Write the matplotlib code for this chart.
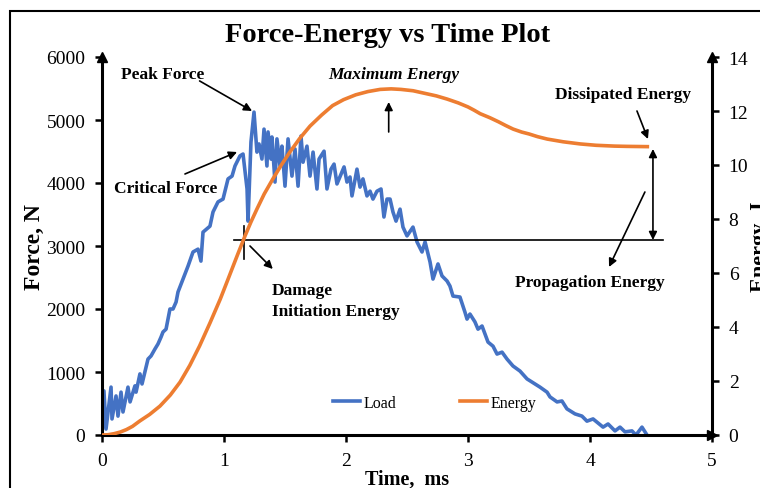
import matplotlib
matplotlib.use("Agg")
import matplotlib.pyplot as plt
from matplotlib.patches import Rectangle

plt.rcParams["font.family"] = ["Liberation Serif", "DejaVu Serif"]

# Load curve (time in ms, force in N)
load_t = [0, 0.016, 0.033, 0.074, 0.082, 0.115, 0.131, 0.156, 0.172, 0.213, 0.230, 0.270, 0.279,
          0.311, 0.328, 0.352, 0.377, 0.402, 0.434, 0.459, 0.484, 0.500, 0.525, 0.557, 0.582, 0.607,
          0.623, 0.664, 0.705, 0.746, 0.787, 0.811, 0.828, 0.885, 0.910, 0.951, 0.992, 1.033, 1.066,
          1.090, 1.131, 1.156, 1.189, 1.197, 1.221, 1.246, 1.270, 1.287, 1.311, 1.328, 1.352, 1.361,
          1.385, 1.393, 1.418, 1.434, 1.459, 1.475, 1.500, 1.525, 1.557, 1.582, 1.607, 1.631, 1.648,
          1.680, 1.705, 1.730, 1.762, 1.779, 1.820, 1.844, 1.877, 1.902, 1.926, 1.967, 1.984, 2.008,
          2.033, 2.049, 2.090, 2.115, 2.139, 2.172, 2.197, 2.221, 2.254, 2.287, 2.311, 2.336, 2.361,
          2.385, 2.410, 2.443, 2.467, 2.500, 2.549, 2.582, 2.623, 2.648, 2.689, 2.713, 2.754, 2.787,
          2.828, 2.852, 2.877, 2.934, 2.975, 2.992, 3.016, 3.057, 3.082, 3.115, 3.164, 3.205, 3.238,
          3.279, 3.320, 3.369, 3.426, 3.484, 3.590, 3.648, 3.672, 3.730, 3.770, 3.811, 3.877, 3.934,
          3.975, 4.025, 4.107, 4.148, 4.205, 4.246, 4.287, 4.344, 4.377, 4.426, 4.467]
load_f = [0, 700, 95, 760, 255, 620, 300, 680, 365, 760, 525, 780, 680,
          970, 810, 1000, 1205, 1255, 1365, 1445, 1555, 1635, 1680, 2000, 2000, 2110,
          2270, 2475, 2680, 2905, 2950, 2760, 3220, 3315, 3540, 3700, 3745, 4065, 4110,
          4270, 4430, 4460, 3905, 3395, 4650, 5125, 4490, 4620, 4380, 4855, 4270, 4810,
          4380, 4730, 4015, 4700, 4270, 4585, 3950, 4700, 4110, 4540, 3950, 4745, 4330,
          4585, 4110, 4490, 3905, 4380, 4505, 3905, 4220, 4300, 3985, 4175, 4255, 4015,
          4095, 3795, 4220, 3935, 4065, 3795, 3870, 3745, 3870, 3905, 3460, 3745, 3745,
          3540, 3395, 3585, 3300, 3160, 3300, 3065, 2905, 3065, 2745, 2475, 2715, 2525,
          2445, 2365, 2205, 2190, 1950, 1840, 1920, 1795, 1680, 1730, 1475, 1410, 1285,
          1315, 1205, 1095, 1015, 890, 760, 680, 605, 525, 540, 415, 335, 300,
          220, 255, 125, 175, 65, 125, 50, 65, 0, 125, 0]

# Energy curve (time in ms, energy in J)
energy_t = [0, 0.05, 0.1, 0.15, 0.2, 0.25, 0.31, 0.39, 0.475, 0.56, 0.64, 0.72, 0.8, 0.885,
            0.97, 1.04, 1.107, 1.172, 1.22, 1.27, 1.33, 1.40, 1.47, 1.54, 1.62, 1.705, 1.80,
            1.89, 1.98, 2.08, 2.18, 2.28, 2.37, 2.45, 2.55, 2.65, 2.74, 2.83, 2.92, 3.0, 3.05,
            3.1, 3.18, 3.25, 3.31, 3.37, 3.44, 3.5, 3.57, 3.65, 3.78, 3.92, 4.05, 4.2, 4.3, 4.47]
energy_j = [0, 0.01, 0.05, 0.11, 0.2, 0.32, 0.52, 0.76, 1.07, 1.48, 1.96, 2.58, 3.30, 4.15,
            5.04, 5.85, 6.63, 7.37, 7.88, 8.37, 8.93, 9.48, 10.0, 10.48, 10.98, 11.44, 11.85,
            12.2, 12.42, 12.6, 12.72, 12.8, 12.82, 12.8, 12.75, 12.65, 12.56, 12.44, 12.3, 12.15, 12.03,
            11.9, 11.75, 11.6, 11.46, 11.33, 11.22, 11.15, 11.05, 10.96, 10.86, 10.78, 10.73, 10.70, 10.69, 10.68]

x_ticks = [0, 1, 2, 3, 4, 5]
force_ticks = [0, 1000, 2000, 3000, 4000, 5000, 6000]
energy_ticks = [0, 2, 4, 6, 8, 10, 12, 14]

BLUE = "#4472C4"
ORANGE = "#ED7D31"

fig = plt.figure(figsize=(7.6, 4.89), dpi=100)
ax = fig.add_axes([102 / 760, 1 - 436 / 489, 610 / 760, 378 / 489])
ax2 = ax.twinx()

line_load, = ax.plot(load_t, load_f, color=BLUE, lw=2.6, label="Load")
line_en, = ax2.plot(energy_t, energy_j, color=ORANGE, lw=2.6, label="Energy")

ax.set_xlim(0, 5)
ax.set_ylim(0, 6000)
ax2.set_ylim(0, 14)
ax.set_xticks(x_ticks)
ax.set_yticks(force_ticks)
ax2.set_yticks(energy_ticks)

for a in (ax, ax2):
    a.spines["top"].set_visible(False)
    for s in a.spines.values():
        s.set_linewidth(2.2)
    a.tick_params(direction="out", length=5, width=1.8, labelsize=14, pad=7)
ax.spines["right"].set_visible(False)
ax2.spines["left"].set_visible(False)
ax2.spines["bottom"].set_visible(False)

# arrow heads on the axes
ax.plot(0, 1, "^k", ms=7, transform=ax.transAxes, clip_on=False)
ax.plot(1, 0, ">k", ms=7, transform=ax.transAxes, clip_on=False)
ax.plot(1, 1, "^k", ms=7, transform=ax.transAxes, clip_on=False)

ax.set_xlabel("Time,  ms", fontsize=14.5, fontweight="bold", labelpad=0)
ax.set_ylabel("Force, N", fontsize=17, fontweight="bold", labelpad=1)
ax2.set_ylabel("Energy, J", fontsize=16, fontweight="bold", labelpad=1)
fig.text(388 / 760, 1 - 35 / 489, "Force-Energy vs Time Plot", fontsize=20.5, fontweight="bold",
         ha="center", va="center")

arrow = dict(arrowstyle="-|>", color="k", lw=1.2, mutation_scale=12, shrinkA=0, shrinkB=0)
dbl = dict(arrowstyle="<|-|>", color="k", lw=1.2, mutation_scale=12, shrinkA=0, shrinkB=0)
tfont = dict(fontsize=12.5, fontweight="bold", ha="center", va="center")

ax.text(0.50, 5730, "Peak Force", **tfont)
ax.annotate("", xy=(1.23, 5143), xytext=(0.80, 5620), arrowprops=arrow)
ax.text(0.52, 3920, "Critical Force", **tfont)
ax.annotate("", xy=(1.107, 4492), xytext=(0.68, 4143), arrowprops=arrow)
ax.text(2.39, 5730, "Maximum Energy", style="italic", **tfont)
ax.annotate("", xy=(2.35, 5286), xytext=(2.35, 4810), arrowprops=arrow)
ax.text(4.27, 5413, "Dissipated Energy", **tfont)
ax.annotate("", xy=(4.475, 4698), xytext=(4.385, 5143), arrowprops=arrow)
ax.annotate("", xy=(4.516, 4540), xytext=(4.516, 3095), arrowprops=dbl)
ax.plot([1.082, 4.60], [3095, 3095], color="k", lw=1.2)
ax.plot([1.164, 1.164], [2794, 3317], color="k", lw=1.2)
ax.annotate("", xy=(1.40, 2635), xytext=(1.213, 3000), arrowprops=arrow)
ax.text(1.393, 2300, "Damage", fontsize=12.5, fontweight="bold", ha="left", va="center")
ax.text(1.393, 1968, "Initiation Energy", fontsize=12.5, fontweight="bold", ha="left", va="center")
ax.text(4.0, 2430, "Propagation Energy", **tfont)
ax.annotate("", xy=(4.156, 2667), xytext=(4.45, 3857), arrowprops=arrow)

leg = ax2.legend([line_load, line_en], ["Load", "Energy"], ncol=2, frameon=False,
                 loc="center", bbox_to_anchor=(0.545, 0.085), fontsize=11.5,
                 handlelength=1.7, handletextpad=0.2, columnspacing=4.0)

fig.patches.append(Rectangle((10 / 760, -0.2), 1.2, 1.2 - 12 / 489, transform=fig.transFigure,
                             fill=False, ec="k", lw=1.5))

fig.savefig("out.png", dpi=100)
